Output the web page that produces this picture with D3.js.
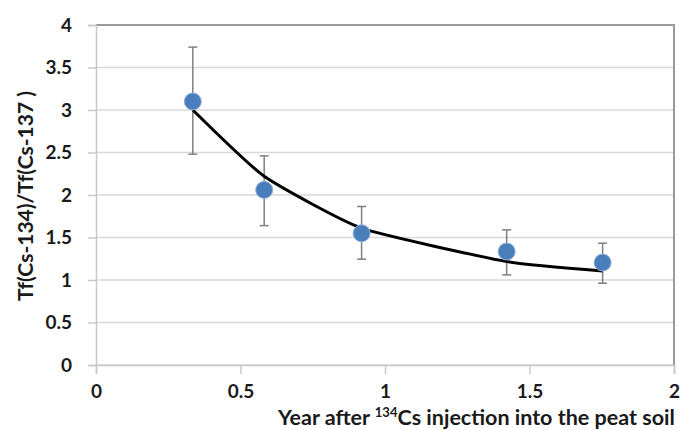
<!DOCTYPE html>
<html>
<head>
<meta charset="utf-8">
<script src="https://cdn.jsdelivr.net/npm/d3@7"></script>
<style>
  html, body { margin: 0; padding: 0; background: #fff; }
  svg { display: block; }
  text { font-family: Lato, "Open Sans", "Liberation Sans", sans-serif; font-weight: bold; fill: #1a1a1a; }
</style>
</head>
<body>
<svg id="chart" width="697" height="430"></svg>
<script>
// Years after injection at which samples were taken
const years = [0.335, 0.582, 0.919, 1.421, 1.753];
// Measured Tf ratio and its error bar limits
const ratio = [3.10, 2.06, 1.55, 1.335, 1.205];
const ratioHigh = [3.74, 2.46, 1.865, 1.59, 1.433];
const ratioLow = [2.48, 1.64, 1.245, 1.06, 0.962];
// Fitted trend values at the same times
const fitted = [3.00, 2.22, 1.61, 1.217, 1.107];
// Tick labels
const xTicks = [0, 0.5, 1, 1.5, 2];
const yTicks = [0, 0.5, 1, 1.5, 2, 2.5, 3, 3.5, 4];

const svg = d3.select("#chart");
const plot = { left: 96, right: 674, top: 25, bottom: 365 };

const x = d3.scaleLinear().domain([0, 2]).range([plot.left, plot.right]);
const y = d3.scaleLinear().domain([0, 4]).range([plot.bottom, plot.top]);

// Horizontal gridlines
svg.append("g").selectAll("line").data(yTicks).join("line")
  .attr("x1", plot.left).attr("x2", plot.right)
  .attr("y1", d => y(d)).attr("y2", d => y(d))
  .attr("stroke", "#d9d9d9").attr("stroke-width", 1.5);

// Plot border: darker top and right edges
svg.append("path")
  .attr("d", `M${plot.left},${plot.top}H${plot.right}V${plot.bottom}`)
  .attr("fill", "none").attr("stroke", "#9a9a9a").attr("stroke-width", 2);

const tickFont = sel => sel.attr("font-size", 19).attr("fill", "#1a1a1a")
  .attr("font-family", "Lato, 'Open Sans', sans-serif").attr("font-weight", "bold");

// Y axis
const yAxis = svg.append("g").attr("transform", `translate(${plot.left},0)`)
  .call(d3.axisLeft(y).tickValues(yTicks).tickSize(8).tickPadding(16).tickFormat(d3.format("")));
yAxis.select(".domain").attr("stroke", "#c8c8c8").attr("stroke-width", 1.5);
yAxis.selectAll(".tick line").attr("stroke", "#c8c8c8").attr("stroke-width", 1.5);
yAxis.selectAll(".tick text").call(tickFont);

// X axis
const xAxis = svg.append("g").attr("transform", `translate(0,${plot.bottom})`)
  .call(d3.axisBottom(x).tickValues(xTicks).tickSize(9).tickPadding(11).tickFormat(d3.format("")));
xAxis.select(".domain").attr("stroke", "#c8c8c8").attr("stroke-width", 1.5);
xAxis.selectAll(".tick line").attr("stroke", "#c8c8c8").attr("stroke-width", 1.5);
xAxis.selectAll(".tick text").call(tickFont);

// Axis titles
svg.append("text")
  .attr("transform", "translate(33,196) rotate(-90)")
  .attr("text-anchor", "middle").attr("font-size", 21)
  .text("Tf(Cs-134)/Tf(Cs-137 )");

const xt = svg.append("text")
  .attr("x", 278).attr("y", 425).attr("font-size", 21.5);
xt.append("tspan").text("Year after ");
xt.append("tspan").attr("font-size", 13).attr("dy", -8).text("134");
xt.append("tspan").attr("dy", 8).text("Cs injection into the peat soil");

// Error bars
const eb = svg.append("g").attr("stroke", "#7f7f7f").attr("stroke-width", 1.5);
eb.selectAll("line.v").data(years).join("line").attr("class", "v")
  .attr("x1", d => x(d)).attr("x2", d => x(d))
  .attr("y1", (d, i) => y(ratioHigh[i])).attr("y2", (d, i) => y(ratioLow[i]));
eb.selectAll("line.h").data(years).join("line").attr("class", "h")
  .attr("x1", d => x(d) - 4.5).attr("x2", d => x(d) + 4.5)
  .attr("y1", (d, i) => y(ratioHigh[i])).attr("y2", (d, i) => y(ratioHigh[i]));
eb.selectAll("line.l").data(years).join("line").attr("class", "l")
  .attr("x1", d => x(d) - 4.5).attr("x2", d => x(d) + 4.5)
  .attr("y1", (d, i) => y(ratioLow[i])).attr("y2", (d, i) => y(ratioLow[i]));

// Fitted trend
const line = d3.line().x(d => x(d[0])).y(d => y(d[1])).curve(d3.curveCardinal.tension(0.5));
svg.append("path")
  .datum(years.map((d, i) => [d, fitted[i]]))
  .attr("d", line).attr("fill", "none")
  .attr("stroke", "#000").attr("stroke-width", 3).attr("stroke-linejoin", "round");

// Measured points
svg.append("g").selectAll("circle").data(years).join("circle")
  .attr("cx", d => x(d)).attr("cy", (d, i) => y(ratio[i]))
  .attr("r", 8.5).attr("fill", "#4a7ebb")
  .attr("stroke", "#8fb0db").attr("stroke-width", 1);
</script>
</body>
</html>
